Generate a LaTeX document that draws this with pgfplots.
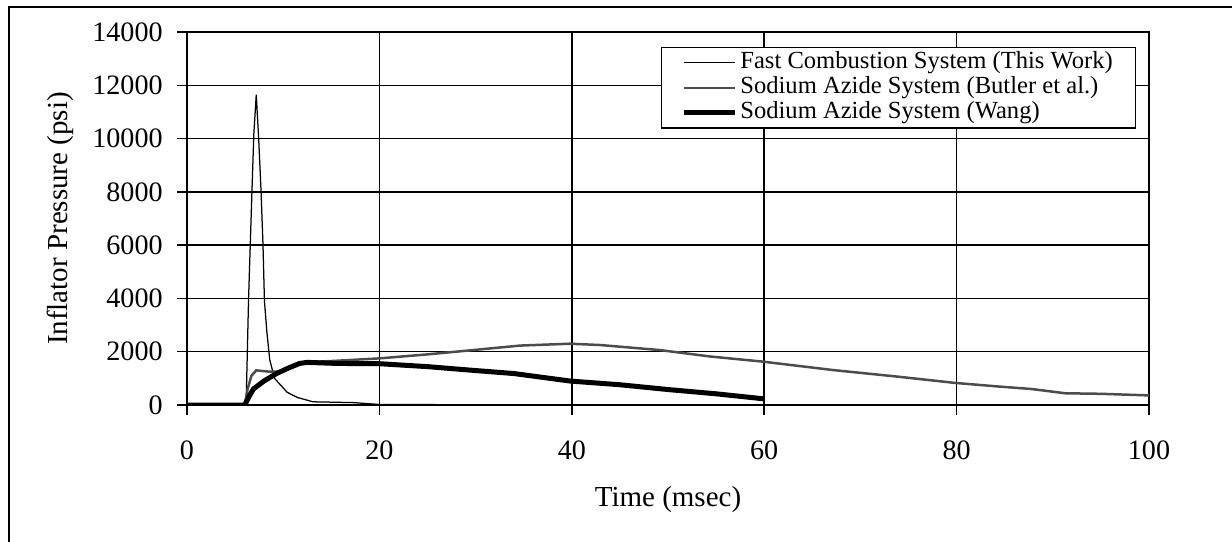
\documentclass[border=0pt]{standalone}
\usepackage{pgfplots}
\pgfplotsset{compat=1.18}
\usepackage{fontspec}
\setmainfont{Liberation Serif}
\begin{document}
\begin{tikzpicture}[x=1mm,y=1mm]
\useasboundingbox (0,0) rectangle (246.4,-108.4);
\draw[line width=0.3mm] (1.8,-300) -- (1.8,-1.4) -- (300,-1.4);
\begin{axis}[
  at={(37.4mm,-81mm)}, anchor=south west,
  scale only axis, width=192.4mm, height=74.6mm,
  xmin=0, xmax=100, ymin=0, ymax=14000,
  xtick={0,20,...,100}, ytick={0,2000,...,14000},
  grid=major, major grid style={black, line width=0.3mm},
  axis line style={line width=0.3mm},
  tick style={black, line width=0.3mm},
  tick align=outside, major tick length=2mm,
  xtick pos=left, ytick pos=left,
  ticklabel style={font=\fontsize{16}{19}\selectfont},
  xticklabel style={inner sep=0pt, anchor=north, yshift=-5mm},
  yticklabel style={inner sep=0pt, anchor=east, xshift=-2.8mm},
  /pgf/number format/1000 sep={},
  /pgf/number format/assume math mode=true,
  scaled ticks=false,
  xlabel={Time (msec)}, ylabel={Inflator Pressure (psi)},
  every axis x label/.style={at={(axis description cs:0.5,-0.2547)},anchor=center,font=\fontsize{16.5}{19}\selectfont},
  every axis y label/.style={at={(axis description cs:-0.132,0.5)},rotate=90,anchor=center,font=\fontsize{16.5}{19}\selectfont},
  legend style={at={(rel axis cs:0.9865,0.96)}, anchor=north east, draw=black, line width=0.25mm, fill=white,
    font=\fontsize{14}{16}\selectfont, inner xsep=4mm, inner ysep=0.7mm, row sep=0.3mm,
    nodes={inner xsep=0.5mm, inner ysep=0pt, text height=3.5mm, text depth=1.2mm}},
  legend cell align=left,
  legend image code/.code={\draw[#1] (0mm,0mm) -- (10.2mm,0mm);},
]
\addplot[black, line width=0.25mm] coordinates {
(0,0) (6.0,0) (6.15,100) (6.4,4000) (6.75,8000) (6.95,10200) (7.2,11650) (7.45,10000)
(7.7,8000) (7.9,6000) (8.05,3900) (8.3,2750) (8.6,1700) (9.1,1000) (10.4,480) (11.5,280)
(13.1,120) (17.3,90) (20,20) (40,0) (60,0) (80,0) (100,0)};
\addlegendentry{Fast Combustion System (This Work)}
\addplot[black!70, line width=0.5mm] coordinates {
(0,0) (6.0,0) (6.3,600) (6.7,1100) (7.2,1300) (8.6,1250) (9.5,1250) (12,1600) (15,1650)
(20,1750) (25,1900) (29.4,2050) (34.6,2230) (39.8,2300) (43,2250) (49.2,2060) (54.4,1820)
(59.8,1630) (67.2,1310) (74,1060) (79.8,830) (84.5,690) (87.8,600) (91.3,440) (95,420) (100,360)};
\addlegendentry{Sodium Azide System (Butler et al.)}
\addplot[black, line width=1mm] coordinates {
(0,0) (6.0,0) (6.5,350) (6.9,600) (8,900) (9.3,1180) (10.5,1380) (11.7,1560) (12.5,1600)
(15.6,1560) (20,1550) (25,1440) (29.4,1310) (34,1180) (39.8,900) (45,760) (50,580) (55,420) (60,230)};
\addlegendentry{Sodium Azide System (Wang)}
\end{axis}
\end{tikzpicture}
\end{document}
